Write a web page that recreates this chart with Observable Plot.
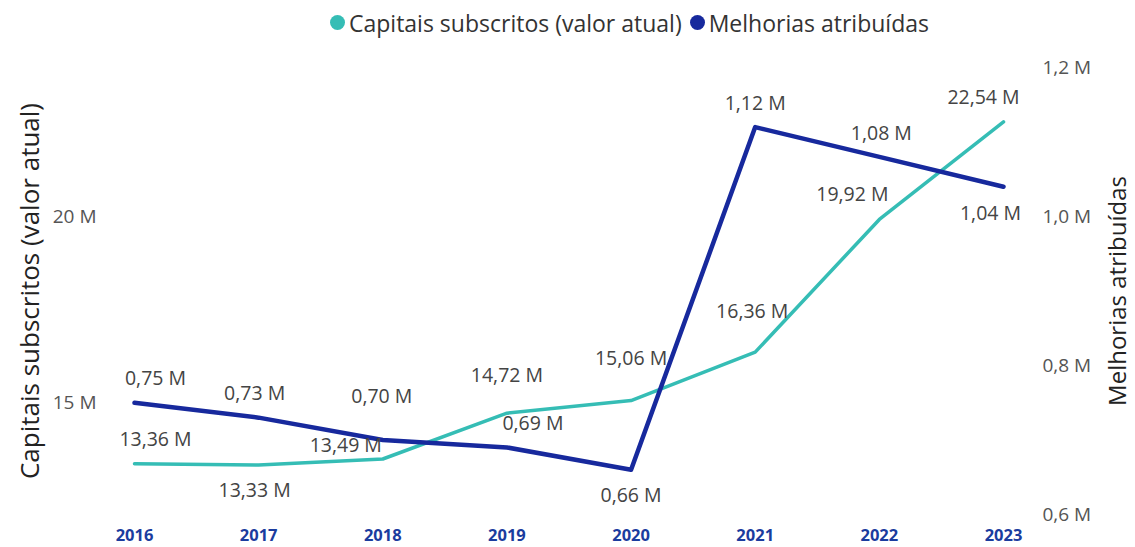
<!DOCTYPE html>
<html>
<head>
<meta charset="utf-8">
<script src="https://cdn.jsdelivr.net/npm/d3@7"></script>
<script src="https://cdn.jsdelivr.net/npm/@observablehq/plot@0.6"></script>
<style>
  html, body { margin: 0; padding: 0; background: #fff; }
  body { width: 1135px; height: 547px; overflow: hidden; font-family: "Open Sans", "Noto Sans", sans-serif; }
  #legend { height: 45px; display: flex; align-items: center; font-size: 23px; color: #333; padding-left: 330px; box-sizing: border-box; }
  #legend .sw { display: inline-block; width: 15px; height: 15px; border-radius: 50%; margin-right: 4px; }
  #legend .item { display: flex; align-items: center; margin-right: 8px; }
  #chart svg { display: block; }
</style>
</head>
<body>
<div id="legend"></div>
<div id="chart"></div>
<script>
const years = [2016, 2017, 2018, 2019, 2020, 2021, 2022, 2023];
const capitais = [13.36, 13.33, 13.49, 14.72, 15.06, 16.36, 19.92, 22.54];
const melhorias = [0.75, 0.73, 0.70, 0.69, 0.66, 1.12, 1.08, 1.04];
const leftTicks = [15, 20];
const rightTicks = [0.6, 0.8, 1.0, 1.2];
const seriesNames = ["Capitais subscritos (valor atual)", "Melhorias atribuídas"];

const tealColor = "#35bdb5";
const navyColor = "#17299d";

// Map right-axis (0.6–1.2 M) onto left-axis scale (12–24 M)
const leftDomain = [12, 24];
const rightDomain = [0.6, 1.2];
const toLeft = v => leftDomain[0] + (v - rightDomain[0]) / (rightDomain[1] - rightDomain[0]) * (leftDomain[1] - leftDomain[0]);
const toRight = v => rightDomain[0] + (v - leftDomain[0]) / (leftDomain[1] - leftDomain[0]) * (rightDomain[1] - rightDomain[0]);

const capData = years.map((y, i) => ({year: y, v: capitais[i]}));
const melData = years.map((y, i) => ({year: y, v: melhorias[i], m: toLeft(melhorias[i])}));

const fmt2 = v => v.toFixed(2).replace(".", ",") + " M";
const fmt1 = v => v.toFixed(1).replace(".", ",") + " M";

// legend
const legend = document.getElementById("legend");
[[seriesNames[0], tealColor], [seriesNames[1], navyColor]].forEach(([n, c]) => {
  const it = document.createElement("span");
  it.className = "item";
  it.innerHTML = `<span class="sw" style="background:${c}"></span>${n}`;
  legend.appendChild(it);
});

// label placement offsets [dx, dy] per point (layout only)
const capLabelOffsets = [[21, -24], [-4, 26], [-37, -13], [0, -37], [0, -42], [-3, -40], [-27, -25], [-20, -24]];
const melLabelOffsets = [[21, -24], [-4, -24], [-1, -43], [26, -24], [0, 26], [0, -23], [2, -23], [-13, 27]];
const labelStyle = {fontSize: 19.5, fill: "#444", fontFamily: "Open Sans, sans-serif"};

const capLabels = capData.map((d, i) => Plot.text([d], {x: "year", y: "v", text: d => fmt2(d.v), dx: capLabelOffsets[i][0], dy: capLabelOffsets[i][1], ...labelStyle}));
const melLabels = melData.map((d, i) => Plot.text([d], {x: "year", y: "m", text: d => fmt2(d.v), dx: melLabelOffsets[i][0], dy: melLabelOffsets[i][1], ...labelStyle}));

const chart = Plot.plot({
  width: 1135,
  height: 502,
  marginLeft: 134,
  marginRight: 132,
  marginTop: 22,
  marginBottom: 33,
  style: {fontFamily: "Open Sans, sans-serif", background: "#fff"},
  x: {domain: [years[0], years[years.length - 1]], axis: null},
  y: {domain: leftDomain, axis: null},
  marks: [
    Plot.axisX({ticks: years, tickFormat: d => String(d), tickSize: 0, tickPadding: 15, fontSize: 16.5, fontWeight: "bold", fill: "#1b3c9e", label: null}),
    Plot.axisY({anchor: "left", ticks: leftTicks, tickFormat: d => d + " M", tickSize: 0, tickPadding: 38, fontSize: 19, fill: "#555", label: null}),
    Plot.axisY({anchor: "right", ticks: rightTicks.map(toLeft), tickFormat: d => fmt1(toRight(d)), tickSize: 0, tickPadding: 39, fontSize: 19, fill: "#555", label: null}),
    Plot.text([seriesNames[0]], {frameAnchor: "left", textAnchor: "middle", dx: -104, rotate: -90, fontSize: 26, fill: "#222"}),
    Plot.text([seriesNames[1]], {frameAnchor: "right", textAnchor: "middle", dx: 115, rotate: -90, fontSize: 24, fill: "#222"}),
    Plot.line(capData, {x: "year", y: "v", stroke: tealColor, strokeWidth: 3.5}),
    Plot.line(melData, {x: "year", y: "m", stroke: navyColor, strokeWidth: 4.5}),
    ...capLabels,
    ...melLabels
  ]
});
document.getElementById("chart").appendChild(chart);
</script>
</body>
</html>
